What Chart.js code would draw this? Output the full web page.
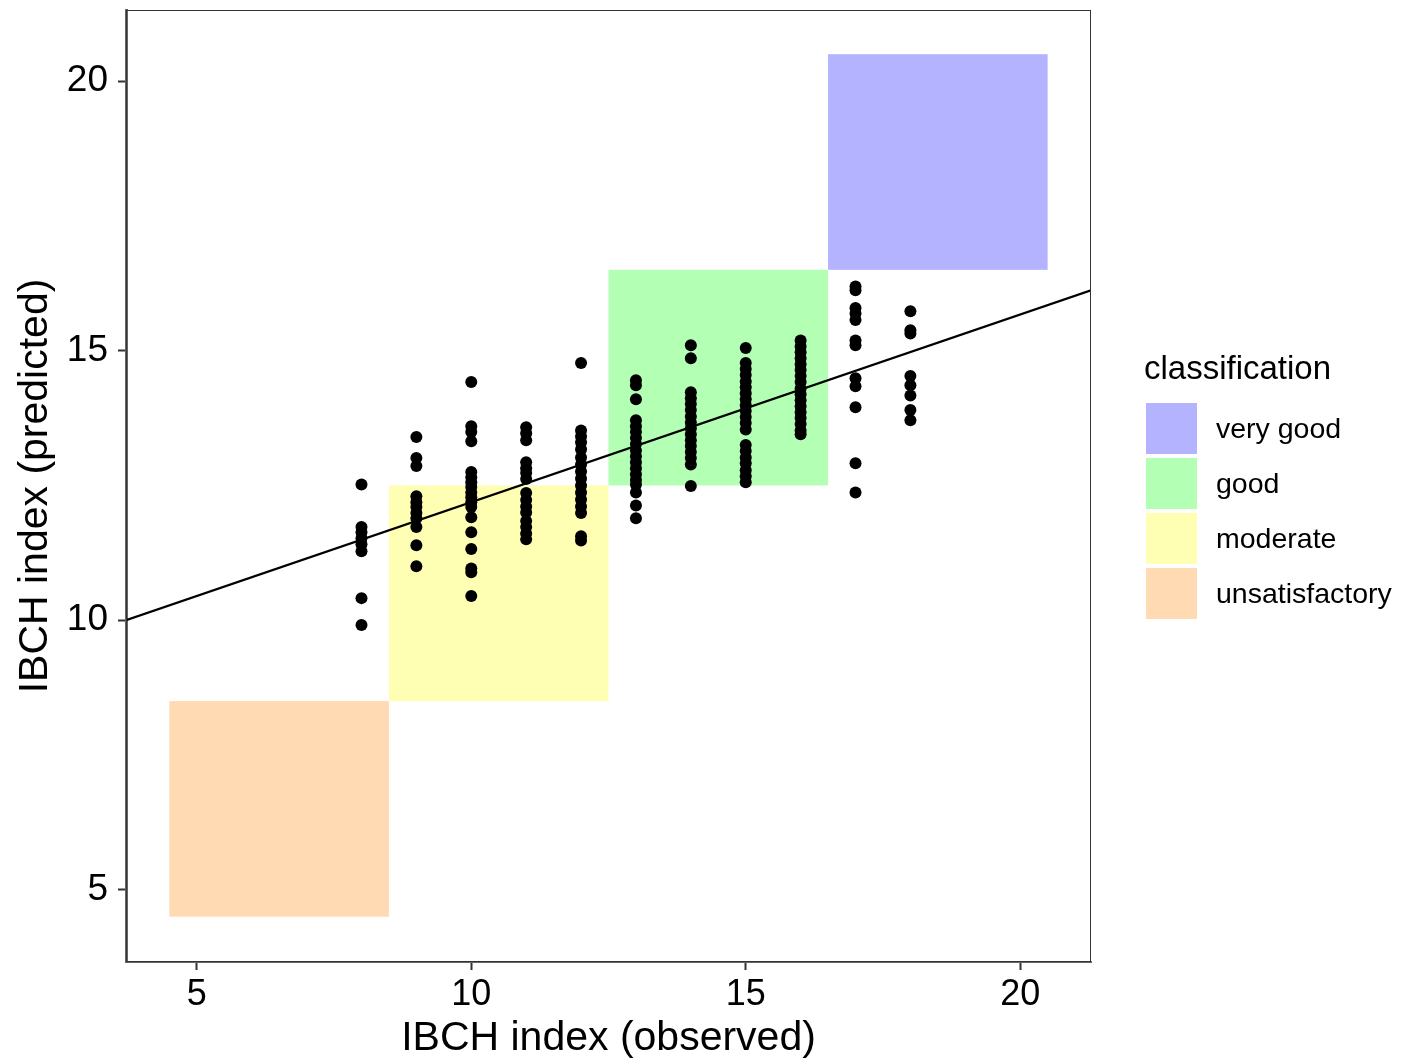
<!DOCTYPE html>
<html>
<head>
<meta charset="utf-8">
<script src="https://cdn.jsdelivr.net/npm/chart.js@4"></script>
<style>
  body { margin: 0; background: #fff; }
  #wrap { position: relative; width: 1412px; height: 1060px; }
  #legend { position: absolute; left: 1144px; top: 348px; font-family: "Liberation Sans", Arial, sans-serif; color: #000; }
  #legend .ttl { font-size: 33px; line-height: 40px; margin-bottom: 15px; }
  #legend .item { height: 51px; margin-bottom: 4px; display: flex; align-items: center; }
  #legend .box { width: 51px; height: 51px; margin-left: 2px; margin-right: 19px; }
  #legend .lbl { font-size: 28.5px; }
</style>
</head>
<body>
<div id="wrap">
  <canvas id="chart" width="1412" height="1060"></canvas>
  <div id="legend"></div>
</div>
<script>
// observed index (x) and the predicted values found at each of them
var observed = [8, 9, 10, 11, 12, 13, 14, 15, 16, 17, 18]
var predicted = [
  [12.52, 11.73, 11.63, 11.52, 11.41, 11.28, 10.41, 9.91],
  [13.40, 13.01, 12.86, 12.30, 12.19, 12.10, 11.99, 11.89, 11.73, 11.39, 11.00],
  [14.42, 13.60, 13.49, 13.32, 12.75, 12.65, 12.56, 12.47, 12.37, 12.28, 12.19, 12.10, 11.91, 11.63, 11.32, 10.96, 10.89, 10.45],
  [13.58, 13.47, 13.34, 12.93, 12.82, 12.73, 12.62, 12.36, 12.23, 12.11, 12.00, 11.84, 11.73, 11.61, 11.50],
  [14.77, 13.52, 13.41, 13.30, 13.17, 13.02, 12.89, 12.76, 12.63, 12.50, 12.37, 12.24, 12.11, 11.99, 11.56, 11.48],
  [14.45, 14.36, 14.10, 13.71, 13.60, 13.49, 13.38, 13.27, 13.15, 13.04, 12.93, 12.82, 12.71, 12.60, 12.52, 12.37, 12.13, 11.89],
  [15.10, 14.86, 14.23, 14.12, 14.01, 13.90, 13.78, 13.67, 13.56, 13.45, 13.34, 13.23, 13.12, 13.01, 12.89, 12.49],
  [15.05, 14.77, 14.66, 14.55, 14.43, 14.32, 14.21, 14.10, 13.99, 13.88, 13.77, 13.66, 13.54, 13.25, 13.14, 13.02, 12.91, 12.78, 12.67, 12.56],
  [15.19, 15.08, 14.97, 14.86, 14.75, 14.64, 14.53, 14.42, 14.30, 14.19, 14.08, 13.97, 13.86, 13.75, 13.64, 13.52, 13.45],
  [16.19, 16.12, 15.79, 15.69, 15.57, 15.19, 15.10, 14.49, 14.34, 13.95, 12.91, 12.37],
  [15.73, 15.38, 15.32, 14.53, 14.36, 14.17, 13.90, 13.71]
]

// fitted line, read at both ends of the panel
var fitX = [3.71, 21.29]
var fitY = [10.0, 16.12]

// classification squares
var classNames = ['very good', 'good', 'moderate', 'unsatisfactory']
var classColors = ['#b3b3ff', '#b3ffb3', '#ffffb3', '#ffdab3']
var classFrom = [16.5, 12.5, 8.5, 4.5]
var classTo = [20.5, 16.5, 12.5, 8.5]

var xTicks = [5, 10, 15, 20]
var yTicks = [5, 10, 15, 20]
var xRange = [3.71, 21.29]
var yRange = [3.66, 21.32]

var font = '"Liberation Sans", Arial, sans-serif'

var points = []
observed.forEach(function (x, i) {
  predicted[i].forEach(function (y) { points.push({ x: x, y: y }) })
})

var fitLine = fitX.map(function (x, i) { return { x: x, y: fitY[i] } })

var classBoxes = {
  id: 'classBoxes',
  beforeDatasetsDraw: function (chart) {
    var ctx = chart.ctx, xs = chart.scales.x, ys = chart.scales.y
    ctx.save()
    classNames.forEach(function (name, i) {
      var x0 = xs.getPixelForValue(classFrom[i]), x1 = xs.getPixelForValue(classTo[i])
      var y0 = ys.getPixelForValue(classTo[i]), y1 = ys.getPixelForValue(classFrom[i])
      ctx.fillStyle = classColors[i]
      ctx.fillRect(x0, y0, x1 - x0, y1 - y0)
    })
    ctx.restore()
  },
  afterDraw: function (chart) {
    var a = chart.chartArea, ctx = chart.ctx
    ctx.save()
    ctx.strokeStyle = '#333'
    ctx.lineWidth = 1
    ctx.strokeRect(a.left + 0.5, a.top + 0.5, a.right - a.left - 1, a.bottom - a.top - 1)
    ctx.restore()
  }
}

function keepTicks(list) {
  return function (scale) {
    scale.ticks = list.map(function (v) { return { value: v } })
  }
}

new Chart(document.getElementById('chart'), {
  data: {
    datasets: [
      {
        type: 'line',
        data: fitLine,
        borderColor: '#000',
        borderWidth: 2.4,
        pointRadius: 0,
        fill: false
      },
      {
        type: 'scatter',
        data: points,
        backgroundColor: '#000',
        borderWidth: 0,
        pointRadius: 6
      }
    ]
  },
  options: {
    responsive: false,
    animation: false,
    layout: { padding: { top: 10, right: 321, bottom: 0, left: 0 } },
    plugins: { legend: { display: false }, tooltip: { enabled: false } },
    scales: {
      x: {
        type: 'linear',
        min: xRange[0],
        max: xRange[1],
        afterBuildTicks: keepTicks(xTicks),
        afterFit: function (s) { s.height = 98 },
        grid: { drawOnChartArea: false, tickLength: 8, tickWidth: 2, tickColor: '#333' },
        border: { color: '#666', width: 2 },
        ticks: { color: '#000', padding: 3, font: { family: font, size: 36 } },
        title: { display: true, text: 'IBCH index (observed)', color: '#000', padding: { top: 0, bottom: -3 }, font: { family: font, size: 41 } }
      },
      y: {
        type: 'linear',
        min: yRange[0],
        max: yRange[1],
        afterBuildTicks: keepTicks(yTicks),
        afterFit: function (s) { s.width = 126; s.paddingTop = 0; s.paddingBottom = 0 },
        grid: { drawOnChartArea: false, tickLength: 8, tickWidth: 2, tickColor: '#333' },
        border: { color: '#666', width: 3 },
        ticks: { color: '#000', padding: 10, font: { family: font, size: 37 } },
        title: { display: true, text: 'IBCH index (predicted)', color: '#000', padding: { top: 11, bottom: 0 }, font: { family: font, size: 41 } }
      }
    }
  },
  plugins: [classBoxes]
})

var legend = document.getElementById('legend')
var html = '<div class="ttl">classification</div>'
classNames.forEach(function (name, i) {
  html += '<div class="item"><span class="box" style="background:' + classColors[i] + '"></span><span class="lbl">' + name + '</span></div>'
})
legend.innerHTML = html
</script>
</body>
</html>
